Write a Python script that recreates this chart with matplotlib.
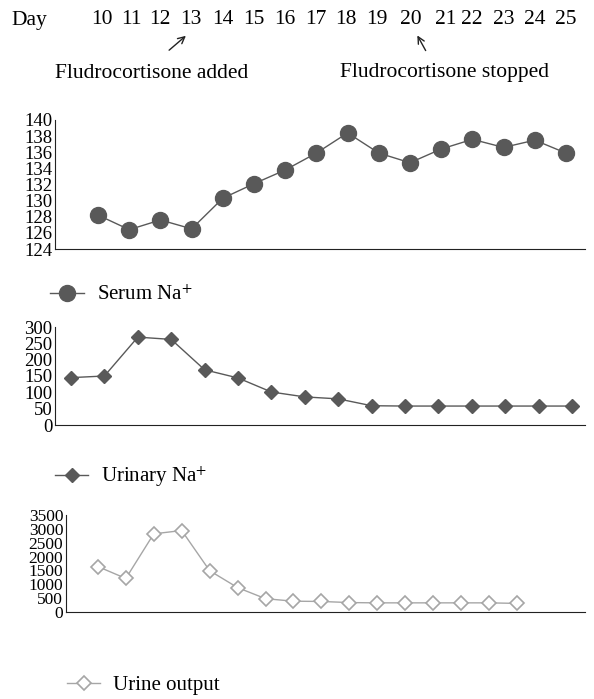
import matplotlib
matplotlib.use('Agg')
import matplotlib.pyplot as plt
import numpy as np

plt.rcParams['font.family'] = ['Liberation Serif', 'DejaVu Serif']
plt.rcParams['mathtext.fontset'] = 'stix'

# data
days = list(range(10, 26))
serum_na = [128.2, 126.4, 127.6, 126.5, 130.3, 132.1, 133.8, 135.9,
            138.4, 135.9, 134.7, 136.4, 137.6, 136.6, 137.5, 135.9]
urinary_na = [145, 150, 269, 262, 169, 144, 101, 86, 80, 59, 58, 58, 58, 58, 58, 58]
urine_output = [1640, 1210, 2820, 2940, 1490, 880, 480, 390, 380, 340, 330, 330,
                330, 330, 330, 310]

W, H = 594, 699
fig = plt.figure(figsize=(W / 100, H / 100), dpi=100)

def fx(px):
    return px / W

def fy(py):
    return 1 - py / H

def axes_px(left, right, top, bottom):
    return fig.add_axes([fx(left), fy(bottom), fx(right - left), (bottom - top) / H])

def style(ax, size=13.5):
    for s in ['top', 'right']:
        ax.spines[s].set_visible(False)
    ax.spines['left'].set_color('#222222')
    ax.spines['bottom'].set_color('#222222')
    ax.set_xticks([])
    ax.tick_params(axis='y', length=0, pad=2, labelsize=size)

idx = np.arange(len(days))

# panel 1: serum Na
ax1 = axes_px(55, 585, 120, 249)
l1, = ax1.plot(idx, serum_na, color='#595959', lw=1, marker='o', ms=11.5,
               mfc='#595959', mec='#595959')
ax1.set_ylim(124, 140)
ax1.set_yticks(np.arange(124, 141, 2))
ax1.set_xlim(-1.38, 15.61)
style(ax1)

# panel 2: urinary Na
ax2 = axes_px(55, 585, 327, 425)
l2, = ax2.plot(idx, urinary_na, color='#595959', lw=1, marker='D', ms=7,
               mfc='#595959', mec='#595959')
ax2.set_ylim(0, 300)
ax2.set_yticks(np.arange(0, 301, 50))
ax2.set_xlim(-0.48, 15.39)
style(ax2)

# panel 3: urine output
ax3 = axes_px(66, 585, 515, 612)
l3, = ax3.plot(idx, urine_output, color='#a6a6a6', lw=1, marker='D', ms=7,
               mfc='white', mec='#a6a6a6', mew=1.2)
ax3.set_ylim(0, 3500)
ax3.set_yticks(np.arange(0, 3501, 500))
ax3.set_xlim(-1.14, 17.43)
style(ax3, size=12.5)

# legends below each panel
for line, label, x0, y, hl in [(l1, 'Serum Na$^{+}$', 50, 295, 1.65),
                               (l2, 'Urinary Na$^{+}$', 55, 477, 1.6),
                               (l3, 'Urine output', 67, 685, 1.6)]:
    fig.legend([line], [label], loc='center left', frameon=False,
               bbox_to_anchor=(fx(x0), fy(y)), fontsize=15,
               borderpad=0, borderaxespad=0,
               handlelength=hl, handletextpad=0.6)

# day header
fig.text(fx(29), fy(20), 'Day', ha='center', va='center', fontsize=15.5)
day_x = [102, 131, 160, 191, 223, 254, 285, 316, 346, 377, 411, 446, 472, 504, 535, 566]
for d, x in zip(days, day_x):
    fig.text(fx(x), fy(20), str(d), ha='center', va='center', fontsize=15.5)

fig.add_artist(matplotlib.patches.FancyArrowPatch(
    (fx(167), fy(52)), (fx(188), fy(34)), transform=fig.transFigure,
    arrowstyle='->', mutation_scale=12, lw=1, color='#222222'))
fig.add_artist(matplotlib.patches.FancyArrowPatch(
    (fx(427), fy(53)), (fx(416), fy(33)), transform=fig.transFigure,
    arrowstyle='->', mutation_scale=12, lw=1, color='#222222'))

fig.text(fx(152), fy(73), 'Fludrocortisone added', ha='center', va='center', fontsize=15.5)
fig.text(fx(444), fy(73), 'Fludrocortisone stopped', ha='center', va='center', fontsize=15.5)

fig.savefig('out.png', dpi=100)
